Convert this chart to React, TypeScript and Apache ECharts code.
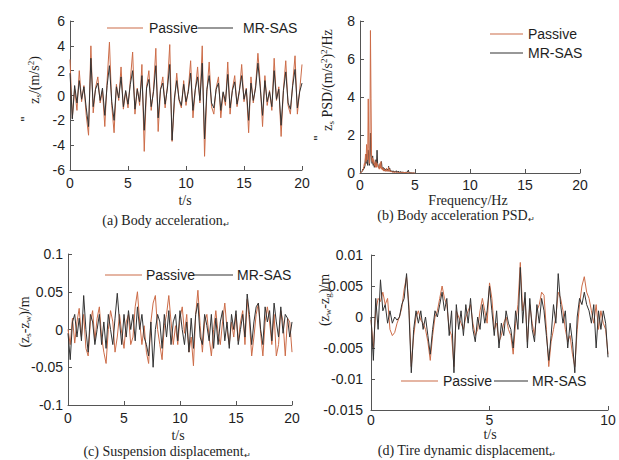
import React, { useEffect, useRef } from 'react';
import * as echarts from 'echarts';

// ---------- data ----------
const ACC_STEP = 0.2; // s
const accPassive = [
  2.9, -1.8, 0.5, -1.2, 2.0, -0.5, 0.8, -1.6, -3.2, 4.0,
  -1.4, 0.6, 1.5, -0.6, 0.4, -2.5, 1.2, 4.3, -0.8, -3.0,
  0.9, -0.4, 2.3, -1.1, 0.3, -1.0, 1.2, 3.5, -1.5, 0.6,
  -0.8, 2.5, -4.5, 0.7, 2.0, -1.2, 0.5, 3.8, -2.9, 0.4,
  1.5, -1.0, 0.8, 4.1, -3.7, -0.6, 1.8, -0.4, -1.0, 1.2,
  -0.8, 0.5, 2.8, -1.8, 0.4, 2.3, -0.6, 4.0, -4.9, 0.3,
  2.7, -0.9, -1.5, 0.6, 1.5, -1.8, 0.2, -0.8, 2.7, -1.5,
  0.5, 1.6, -0.9, 0.3, 2.5, -0.5, 0.6, -3.0, 1.5, -0.6,
  0.8, 3.4, 1.0, -2.5, 1.6, -0.8, 0.4, -1.2, 3.0, -0.4,
  0.7, -3.3, 0.5, 2.8, -0.8, -1.5, 1.0, 3.2, -1.5, 0.4, 2.5,
];
const accMR = [
  1.8, -1.9, 0.8, -0.6, 1.2, -0.3, 0.7, -1.0, -2.5, 3.0,
  -0.9, 0.5, 1.0, -0.4, 0.6, -1.6, 0.8, 2.4, -0.5, -2.0,
  0.7, -0.2, 1.5, -0.9, 0.4, -0.7, 0.9, 2.0, -1.1, 0.5,
  -0.5, 1.6, -2.8, 0.6, 1.3, -0.9, 0.3, 2.4, -1.8, 0.5,
  1.0, -0.7, 0.6, 2.5, -3.6, -0.2, 1.2, -0.3, -0.8, 0.9,
  -0.5, 0.3, 1.8, -1.2, 0.5, 1.5, -0.4, 2.6, -3.5, 0.5,
  1.6, -0.6, -1.0, 0.5, 1.0, -1.2, 0.3, -0.5, 1.7, -1.0,
  0.4, 1.1, -0.7, 0.4, 1.6, -0.3, 0.5, -2.0, 1.0, -0.4,
  0.6, 2.6, 0.6, -1.6, 1.2, -0.5, 0.3, -0.9, 2.0, -0.3,
  0.5, -2.4, 0.4, 1.9, -0.6, -1.1, 0.8, 2.1, -1.0, 0.3, 1.0,
];

const PSD_STEP = 0.05; // Hz
const psdPassive = [
  0, 0.01, 0.03, 0.06, 0.1, 0.15, 0.2, 0.35, 0.5, 0.4,
  1.0, 0.6, 1.5, 1.1, 0.7, 3.9, 1.3, 0.5, 1.0, 7.5,
  3.9, 0.9, 0.6, 0.8, 0.5, 0.7, 0.4, 0.5, 0.3, 0.6,
  0.3, 0.5, 0.4, 0.3, 0.35, 0.2, 0.5, 0.25, 0.6, 0.2,
  0.3, 0.15, 0.25, 0.1, 0.2, 0.12, 0.15, 0.08, 0.25, 0.1,
  0.15, 0.08, 0.3, 0.1, 0.2, 0.05, 0.1, 0.05, 0.08, 0.03,
  0.06, 0.03, 0.08, 0.02, 0.05, 0.03, 0.04, 0.02, 0.06, 0.02,
  0.03, 0.02, 0.05, 0.01, 0.04, 0.02, 0.03, 0.01, 0.04, 0.02,
  0.02, 0.01, 0.03, 0.01, 0.02, 0.01, 0.03, 0.01, 0.02, 0.01,
  0.01, 0, 0.01, 0, 0, 0, 0, 0, 0, 0, 0,
];
const psdMR = [
  0, 0.01, 0.02, 0.05, 0.1, 0.2, 0.15, 0.3, 0.25, 0.4,
  0.8, 0.5, 1.0, 0.6, 0.4, 1.2, 0.9, 0.4, 0.7, 2.1,
  1.0, 0.8, 0.5, 0.9, 0.4, 0.6, 0.3, 0.5, 0.4, 0.7,
  0.4, 1.2, 0.5, 0.4, 0.3, 0.25, 0.4, 0.3, 0.35, 0.6,
  0.3, 0.2, 0.3, 0.15, 0.25, 0.1, 0.2, 0.15, 0.2, 0.1,
  0.2, 0.1, 0.35, 0.1, 0.25, 0.08, 0.15, 0.06, 0.1, 0.05,
  0.12, 0.05, 0.1, 0.04, 0.08, 0.05, 0.12, 0.03, 0.08, 0.04,
  0.1, 0.03, 0.06, 0.02, 0.08, 0.03, 0.05, 0.02, 0.06, 0.03,
  0.05, 0.02, 0.04, 0.02, 0.06, 0.02, 0.05, 0.03, 0.15, 0.02,
  0.04, 0.01, 0.02, 0.01, 0, 0, 0, 0, 0, 0, 0,
];

const SUSP_STEP = 0.2; // s
const suspPassive = [
  0.0, -0.02, 0.015, -0.018, 0.01, 0.028, -0.01, 0.02, -0.025, -0.035,
  0.01, 0.025, -0.015, 0.015, 0.03, -0.01, -0.03, -0.045, 0.0, 0.025,
  0.01, -0.03, -0.01, 0.02, -0.005, -0.025, 0.01, 0.02, -0.02, -0.01,
  0.03, 0.05, 0.01, -0.02, 0.005, -0.03, -0.045, 0.01, 0.035, 0.045,
  0.0, -0.02, -0.04, 0.005, 0.02, 0.045, 0.01, -0.02, 0.005, -0.02,
  0.015, 0.03, -0.005, 0.02, -0.03, -0.01, -0.048, 0.02, 0.052, 0.005,
  -0.03, 0.01, 0.02, -0.01, -0.035, 0.0, 0.025, -0.005, -0.02, 0.01,
  0.035, 0.0, -0.02, 0.01, -0.01, 0.02, -0.015, 0.01, 0.025, -0.02,
  0.04, 0.01, -0.035, -0.01, 0.02, 0.035, -0.005, -0.035, 0.01, 0.03,
  0.01, -0.02, 0.02, -0.035, -0.02, 0.025, 0.01, -0.035, 0.015, 0.01, -0.03,
];
const suspMR = [
  -0.005, -0.04, 0.01, 0.02, -0.01, 0.015, -0.015, 0.045, 0.0, -0.03,
  0.02, 0.01, -0.02, 0.0, 0.02, -0.02, 0.01, -0.025, 0.02, 0.0,
  -0.02, 0.015, 0.048, 0.01, -0.02, 0.02, -0.01, 0.025, 0.0, 0.02,
  -0.015, 0.03, 0.0, 0.02, -0.01, -0.02, -0.035, 0.01, -0.05, 0.0,
  0.02, 0.01, -0.025, 0.02, -0.01, 0.025, -0.02, 0.01, 0.02, -0.015,
  0.025, 0.0, -0.02, 0.01, -0.03, 0.015, -0.025, 0.02, 0.035, -0.01,
  -0.02, 0.02, 0.005, -0.015, 0.02, -0.025, 0.015, -0.02, 0.01, 0.025,
  -0.015, 0.01, -0.025, 0.02, 0.0, 0.025, -0.02, 0.0, 0.02, -0.01,
  0.047, 0.02, -0.02, 0.01, 0.03, 0.035, 0.0, -0.02, 0.03, 0.01,
  0.025, -0.015, 0.035, 0.01, -0.01, 0.03, -0.005, 0.02, 0.015, -0.01, 0.01,
];

const TIRE_STEP = 0.1; // s
const tirePassive = [
  -0.0005, -0.005, 0.001, 0.003, 0.0025, 0.004, 0.002, 0.003, -0.002, -0.003,
  -0.0025, -0.001, 0.0, 0.0015, 0.0045, 0.0065, 0.002, -0.008, -0.003, 0.0,
  0.001, -0.0005, -0.001, -0.002, -0.004, -0.007, -0.003, 0.0, 0.001, 0.003,
  0.005, 0.003, 0.002, -0.002, -0.003, -0.008, 0.001, 0.0, -0.001, -0.002,
  0.0, 0.001, 0.002, -0.001, -0.003, -0.002, 0.001, 0.003, 0.001, -0.001,
  0.0055, 0.003, -0.002, -0.001, -0.004, -0.003, -0.001, 0.0, -0.002, -0.003,
  -0.006, -0.001, 0.002, 0.0088, 0.001, 0.003, -0.004, 0.002, -0.001, -0.003,
  0.001, 0.002, 0.004, 0.0035, -0.002, -0.008, -0.004, -0.002, 0.0, 0.004,
  0.003, 0.001, -0.002, -0.004, -0.003, -0.006, -0.008, -0.002, 0.002, 0.005,
  0.0065, 0.004, 0.003, 0.001, -0.001, 0.002, -0.002, 0.001, -0.001, -0.002, -0.006,
];
const tireMR = [
  0.0, -0.007, 0.003, -0.002, 0.006, 0.001, 0.002, -0.001, 0.001, -0.001,
  0.0, -0.0005, 0.0, 0.002, 0.003, 0.007, 0.001, -0.009, -0.002, 0.001,
  -0.001, 0.001, -0.002, 0.0, -0.003, -0.006, -0.002, 0.001, 0.0, 0.002,
  0.004, 0.001, 0.003, -0.003, 0.001, -0.009, 0.002, -0.002, 0.001, -0.003,
  0.002, -0.001, 0.003, -0.002, -0.004, 0.0, -0.002, 0.002, -0.001, 0.001,
  0.005, 0.001, -0.003, 0.001, -0.005, -0.001, -0.003, 0.001, -0.001, -0.002,
  -0.005, 0.001, -0.002, 0.008, -0.001, 0.004, -0.005, 0.003, -0.002, -0.004,
  0.002, -0.001, 0.003, 0.001, -0.003, -0.007, -0.003, 0.002, -0.001, 0.007,
  0.002, -0.001, 0.001, -0.005, -0.001, -0.004, -0.009, 0.0, 0.003, 0.002,
  0.004, 0.002, 0.001, -0.001, 0.002, -0.005, 0.001, -0.002, 0.001, -0.001, -0.0065,
];

const SERIES_NAMES = ['Passive', 'MR-SAS'];
const captions = [
  '(a) Body acceleration',
  '(b) Body acceleration PSD',
  '(c) Suspension displacement',
  '(d) Tire dynamic displacement',
];

// ---------- styles ----------
const C_PASSIVE = '#cc6c48';
const C_MR = '#333333';
const AXIS_C = '#555555';
const TXT_C = '#1e1e1e';
const SANS = '"Liberation Sans", Arial, sans-serif';
const SERIF = '"Liberation Serif", "Times New Roman", serif';

const toPairs = (vals: number[], step: number) =>
  vals.map((v, i) => [Math.round(i * step * 1000) / 1000, v]);

const axisBase = (gridIndex: number, min: number, max: number, interval: number, margin: number) => ({
  type: 'value',
  gridIndex,
  min,
  max,
  interval,
  splitLine: { show: false },
  axisLine: { show: true, onZero: false, lineStyle: { color: AXIS_C, width: 1 } },
  axisTick: { show: true, inside: true, length: 4, lineStyle: { color: AXIS_C } },
  axisLabel: { color: TXT_C, fontSize: 14, fontFamily: SANS, margin, lineHeight: 14 },
});

const richStyles = {
  n: { fontSize: 14, fontFamily: SERIF, color: TXT_C, lineHeight: 16 },
  t: { fontSize: 14, fontFamily: SERIF, color: TXT_C, lineHeight: 12 },
  sub: { fontSize: 9, fontFamily: SERIF, color: TXT_C, lineHeight: 7, verticalAlign: 'bottom' },
  sup: { fontSize: 9, fontFamily: SERIF, color: TXT_C, lineHeight: 7, verticalAlign: 'top' },
  m: { fontSize: 8, fontFamily: SANS, color: '#777', lineHeight: 12, verticalAlign: 'bottom' },
};

const plainText = (text: string, x: number, y: number, size = 14, family = SERIF) => ({
  type: 'text',
  x,
  y,
  silent: true,
  style: {
    text,
    fontSize: size,
    fontFamily: family,
    fill: TXT_C,
    align: 'center',
    verticalAlign: 'middle',
    textAlign: 'center',
    textVerticalAlign: 'middle',
  },
});

const richText = (text: string, x: number, y: number, rotate = false) => ({
  type: 'text',
  x,
  y,
  rotation: rotate ? Math.PI / 2 : 0,
  silent: true,
  style: {
    text,
    rich: richStyles,
    fill: TXT_C,
    align: 'center',
    verticalAlign: 'middle',
    textAlign: 'center',
    textVerticalAlign: 'middle',
  },
});

const primeMark = (x: number, y: number) => ({
  type: 'text',
  x,
  y,
  rotation: Math.PI / 2,
  silent: true,
  style: {
    text: '"',
    fontSize: 14,
    fontFamily: SANS,
    fill: TXT_C,
    align: 'center',
    verticalAlign: 'middle',
    textAlign: 'center',
    textVerticalAlign: 'middle',
  },
});

const legendLine = (x1: number, x2: number, y: number, color: string) => ({
  type: 'line',
  silent: true,
  shape: { x1, y1: y, x2, y2: y },
  style: { stroke: color, lineWidth: 1.2 },
});
const legendText = (text: string, x: number, y: number) => ({
  type: 'text',
  x,
  y,
  silent: true,
  style: {
    text,
    fontSize: 14,
    fontFamily: SANS,
    fill: TXT_C,
    align: 'left',
    verticalAlign: 'middle',
    textAlign: 'left',
    textVerticalAlign: 'middle',
  },
});

const lineSeries = (name: string, data: number[][], idx: number, color: string, z: number) => ({
  type: 'line',
  name,
  xAxisIndex: idx,
  yAxisIndex: idx,
  data,
  showSymbol: false,
  symbol: 'none',
  z,
  lineStyle: { color, width: 1 },
  itemStyle: { color },
});

export default function App() {
  const ref = useRef<HTMLDivElement>(null);

  useEffect(() => {
    if (!ref.current) return;
    const chart = echarts.init(ref.current, undefined, { renderer: 'svg' });

    const option = {
      animation: false,
      backgroundColor: '#ffffff',
      grid: [
        { left: 70, top: 21, width: 232, height: 149 },
        { left: 360, top: 21, width: 220, height: 152 },
        { left: 68, top: 254, width: 224, height: 151 },
        { left: 371, top: 255, width: 237, height: 155 },
      ],
      xAxis: [
        axisBase(0, 0, 20, 5, 6),
        axisBase(1, 0, 20, 5, 5),
        axisBase(2, 0, 20, 5, 6),
        axisBase(3, 0, 10, 5, 3),
      ],
      yAxis: [
        axisBase(0, -6, 6, 2, 5),
        axisBase(1, 0, 8, 2, 5),
        axisBase(2, -0.1, 0.1, 0.05, 5),
        axisBase(3, -0.015, 0.01, 0.005, 8),
      ],
      series: [
        lineSeries(SERIES_NAMES[0], toPairs(accPassive, ACC_STEP), 0, C_PASSIVE, 2),
        lineSeries(SERIES_NAMES[1], toPairs(accMR, ACC_STEP), 0, C_MR, 3),
        lineSeries(SERIES_NAMES[1], toPairs(psdMR, PSD_STEP), 1, C_MR, 2),
        lineSeries(SERIES_NAMES[0], toPairs(psdPassive, PSD_STEP), 1, C_PASSIVE, 3),
        lineSeries(SERIES_NAMES[0], toPairs(suspPassive, SUSP_STEP), 2, C_PASSIVE, 2),
        lineSeries(SERIES_NAMES[1], toPairs(suspMR, SUSP_STEP), 2, C_MR, 3),
        lineSeries(SERIES_NAMES[0], toPairs(tirePassive, TIRE_STEP), 3, C_PASSIVE, 2),
        lineSeries(SERIES_NAMES[1], toPairs(tireMR, TIRE_STEP), 3, C_MR, 3),
      ],
      graphic: [
        // legends
        legendLine(107, 143, 28, C_PASSIVE),
        legendText(SERIES_NAMES[0], 149, 28),
        legendLine(198, 233, 28, C_MR),
        legendText(SERIES_NAMES[1], 243, 28),

        legendLine(490, 523, 34, C_PASSIVE),
        legendText(SERIES_NAMES[0], 528, 34),
        legendLine(490, 523, 53, C_MR),
        legendText(SERIES_NAMES[1], 528, 53),

        legendLine(105, 142, 275, C_PASSIVE),
        legendText(SERIES_NAMES[0], 146, 275),
        legendLine(193, 233, 275, C_MR),
        legendText(SERIES_NAMES[1], 237, 275),

        legendLine(401, 438, 381, C_PASSIVE),
        legendText(SERIES_NAMES[0], 443, 381),
        legendLine(494, 528, 381, C_MR),
        legendText(SERIES_NAMES[1], 532, 381),

        // axis names
        plainText('t/s', 185, 200),
        plainText('Frequency/Hz', 468, 200),
        plainText('t/s', 178, 435),
        richText('{t|t/s}', 490, 434),

        richText('{n|z}{sub|s}{n|/(m/s}{sup|2}{n|)}', 34, 80, true),
        primeMark(26, 119),
        richText('{n|z}{sub|s}{n| PSD/(m/s}{sup|2}{n|)}{sup|2}{n|/Hz}', 327, 80, true),
        primeMark(319, 138),
        richText('{n|(z}{sub|s}{n|-z}{sub|w}{n|)/m}', 24, 322, true),
        richText('{n|(z}{sub|w}{n|-z}{sub|g}{n|)/m}', 324, 300, true),

        // captions
        richText('{n|' + captions[0] + '}{m|↵}', 166, 220),
        richText('{n|' + captions[1] + '}{m|↵}', 456, 215),
        richText('{n|' + captions[2] + '}{m|↵}', 167, 451),
        richText('{n|' + captions[3] + '}{m|↵}', 467, 450),
      ],
    };

    chart.setOption(option as any);
    return () => chart.dispose();
  }, []);

  return (
    <div
      ref={ref}
      style={{ position: 'absolute', left: 0, top: 0, width: 619, height: 460, background: '#fff' }}
    />
  );
}
